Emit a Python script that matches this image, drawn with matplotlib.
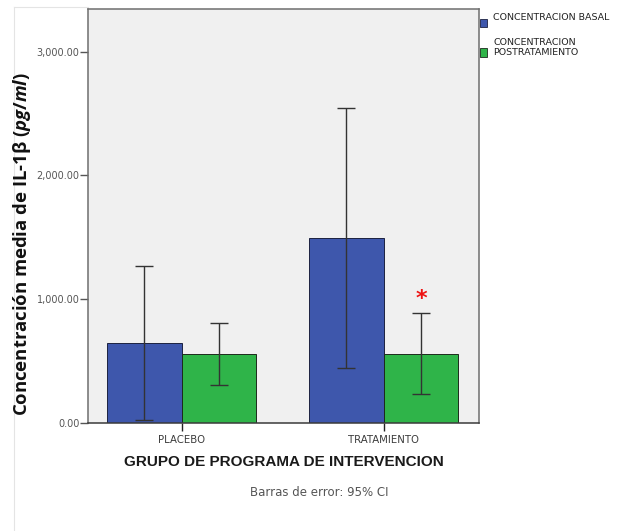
import matplotlib.pyplot as plt
from matplotlib.patches import Rectangle
from matplotlib.ticker import FuncFormatter
import numpy as np

plt.rcParams['mathtext.fontset'] = 'custom'
plt.rcParams['mathtext.it'] = 'Open Sans:italic:bold'
plt.rcParams['mathtext.rm'] = 'Open Sans:bold'

# Data (95% CI error bars)
groups = ['PLACEBO', 'TRATAMIENTO']
series = ['CONCENTRACION BASAL', 'CONCENTRACION\nPOSTRATAMIENTO']
basal_mean = [642, 1493]
basal_low = [22, 442]
basal_high = [1267, 2547]
post_mean = [553, 556]
post_low = [305, 230]
post_high = [804, 887]
star_value = 1000  # significance mark above the post-treatment bar of TRATAMIENTO

blue = '#3E57AC'
green = '#2FB449'

W, H = 623, 531
fig = plt.figure(figsize=(W / 100, H / 100), dpi=100)
ax = fig.add_axes([87.7 / W, 1 - 422.7 / H, (479 - 87.7) / W, (422.7 - 9.3) / H])
ax.set_facecolor('#F0F0F0')

x = np.arange(len(groups))
w = 0.369


def yerr(mean, low, high):
    mean = np.array(mean)
    return [mean - np.array(low), np.array(high) - mean]


ax.bar(x - w / 2, basal_mean, w, color=blue, edgecolor='#1c2140', linewidth=0.7, zorder=2)
ax.bar(x + w / 2, post_mean, w, color=green, edgecolor='#1c2a1c', linewidth=0.7, zorder=2)
ax.errorbar(x - w / 2, basal_mean, yerr=yerr(basal_mean, basal_low, basal_high), fmt='none',
            ecolor='#333333', elinewidth=1.0, capsize=6.5, capthick=1.0, zorder=3)
ax.errorbar(x + w / 2, post_mean, yerr=yerr(post_mean, post_low, post_high), fmt='none',
            ecolor='#333333', elinewidth=1.0, capsize=6.5, capthick=1.0, zorder=3)

ax.text(1 + w / 2, star_value, '*', color='#EE1111', fontsize=16, ha='center', va='center',
        fontweight='bold', zorder=4)

ax.set_xlim(-0.465, 1.472)
ax.set_ylim(0, 3343)
ax.set_yticks([0, 1000, 2000, 3000])
ax.yaxis.set_major_formatter(FuncFormatter(lambda v, p: f'{v:,.2f}'))
ax.set_xticks(x)
ax.set_xticklabels(groups)

for s in ax.spines.values():
    s.set_color('#6e6e6e')
    s.set_linewidth(1.1)
ax.spines['bottom'].set_color('#3a3a3a')

ax.tick_params(axis='y', length=5.5, width=1.0, color='#555555', pad=0.5,
               labelsize=7, labelcolor='#555555')
ax.tick_params(axis='x', length=5.5, width=1.0, color='#222222', pad=3,
               labelsize=7.3, labelcolor='#3a3a3a')

# Axis titles
fig.text(283.4 / W, 1 - 462 / H, 'GRUPO DE PROGRAMA DE INTERVENCION', ha='center', va='center',
         fontsize=11, fontweight='bold', family='Liberation Sans', color='#1a1a1a')
fig.text(319 / W, 1 - 492 / H, 'Barras de error: 95% CI', ha='center', va='center',
         fontsize=8.5, color='#555555')
fig.text(22 / W, 1 - 244 / H, 'Concentración media de IL-1β ($\\mathit{pg/ml}$)', rotation=90,
         ha='center', va='center', fontsize=13.3, fontweight='bold', family='Open Sans', color='#111111')

# Legend drawn at the right of the plot frame
fig.patches.append(Rectangle((479.5 / W, 1 - 27 / H), 7 / W, 8.5 / H, transform=fig.transFigure,
                             facecolor=blue, edgecolor='#1c2140', linewidth=0.6))
fig.patches.append(Rectangle((479.5 / W, 1 - 56.7 / H), 7 / W, 8.5 / H, transform=fig.transFigure,
                             facecolor=green, edgecolor='#1c2a1c', linewidth=0.6))
fig.text(493 / W, 1 - 18 / H, series[0], ha='left', va='center', fontsize=6.8, color='#222222')
fig.text(493 / W, 1 - 47.5 / H, series[1], ha='left', va='center', fontsize=6.8, color='#222222',
         linespacing=1.05)

# faint outer frame lines
fig.add_artist(plt.Line2D([14 / W, 14 / W], [0, 1 - 7 / H], color='#e4e4e4', linewidth=0.8))
fig.add_artist(plt.Line2D([14 / W, 87.7 / W], [1 - 7 / H, 1 - 7 / H], color='#e4e4e4', linewidth=0.8))

fig.savefig('out.png', dpi=100, facecolor='white')
